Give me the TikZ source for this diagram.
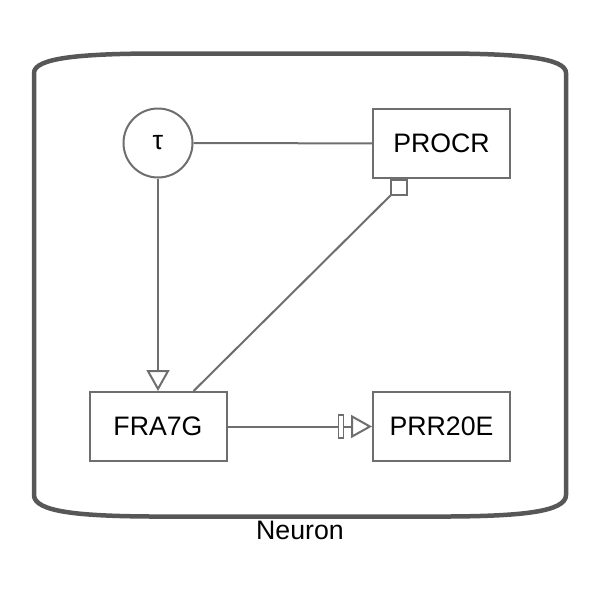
\documentclass[tikz,border=0pt]{standalone}
\usepackage{fontspec}
\setmainfont{Liberation Sans}
\usetikzlibrary{positioning,arrows.meta}
\definecolor{edgegray}{HTML}{6E6E6E}
\definecolor{compgray}{HTML}{575757}
\tikzset{
	label font/.style={font=\fontsize{26.7}{32}\selectfont},
	macro/.style={draw=edgegray,line width=2pt,fill=white,minimum width=137pt,minimum height=69pt,inner sep=0pt,label font},
	simple/.style={circle,draw=edgegray,line width=2pt,fill=white,minimum size=69pt,inner sep=0pt,label font},
	link/.style={draw=edgegray,line width=2pt},
	stim/.style={link,-{Triangle[open,length=21pt,width=23pt]}},
	barbox/.style={draw=edgegray,fill=white,line width=1.5pt,minimum width=5pt,minimum height=23pt,inner sep=0pt},
	port/.style={draw=edgegray,fill=white,line width=1.5pt,minimum width=16pt,minimum height=15pt,inner sep=0pt}
}
\begin{document}
\begin{tikzpicture}[x=1pt,y=-1pt]
			\useasboundingbox(0,0)rectangle(600,600);
			% compartment
			\draw[compgray,line width=4.5pt](34,495)--(34,73)
				..controls(34,58)and(80,54)..(150,53.5)--(450,53.5)
				..controls(520,54)and(566,58)..(566,73)--(566,495)
				..controls(566,512)and(520,516)..(450,516.5)--(150,516.5)
				..controls(80,516)and(34,512)..cycle;
			\node[label font](neuron)at(300,530){Neuron};
			% nodes
			\node[simple](tau)at(158,143){τ};
			\node[macro](procr)at(441.5,143.5){PROCR};
			\node[macro](fra7g)at(158,426.5){FRA7G};
			\node[macro](prr20e)at(441.5,426.5){PRR20E};
			\node[port,below right=0pt and 18pt of procr.south west](procrport){};
			\coordinate[left=22pt of prr20e.west](nsbase);
			\node[barbox,left=6pt of nsbase](nsbar){};
			% arcs
			\draw[link](tau)--(procr);
			\draw[stim](tau)--(fra7g);
			\draw[link](procrport)--(fra7g);
			\draw[link](fra7g)--(nsbar);
			\draw[stim](nsbar)--(prr20e);
		\end{tikzpicture}
\end{document}
